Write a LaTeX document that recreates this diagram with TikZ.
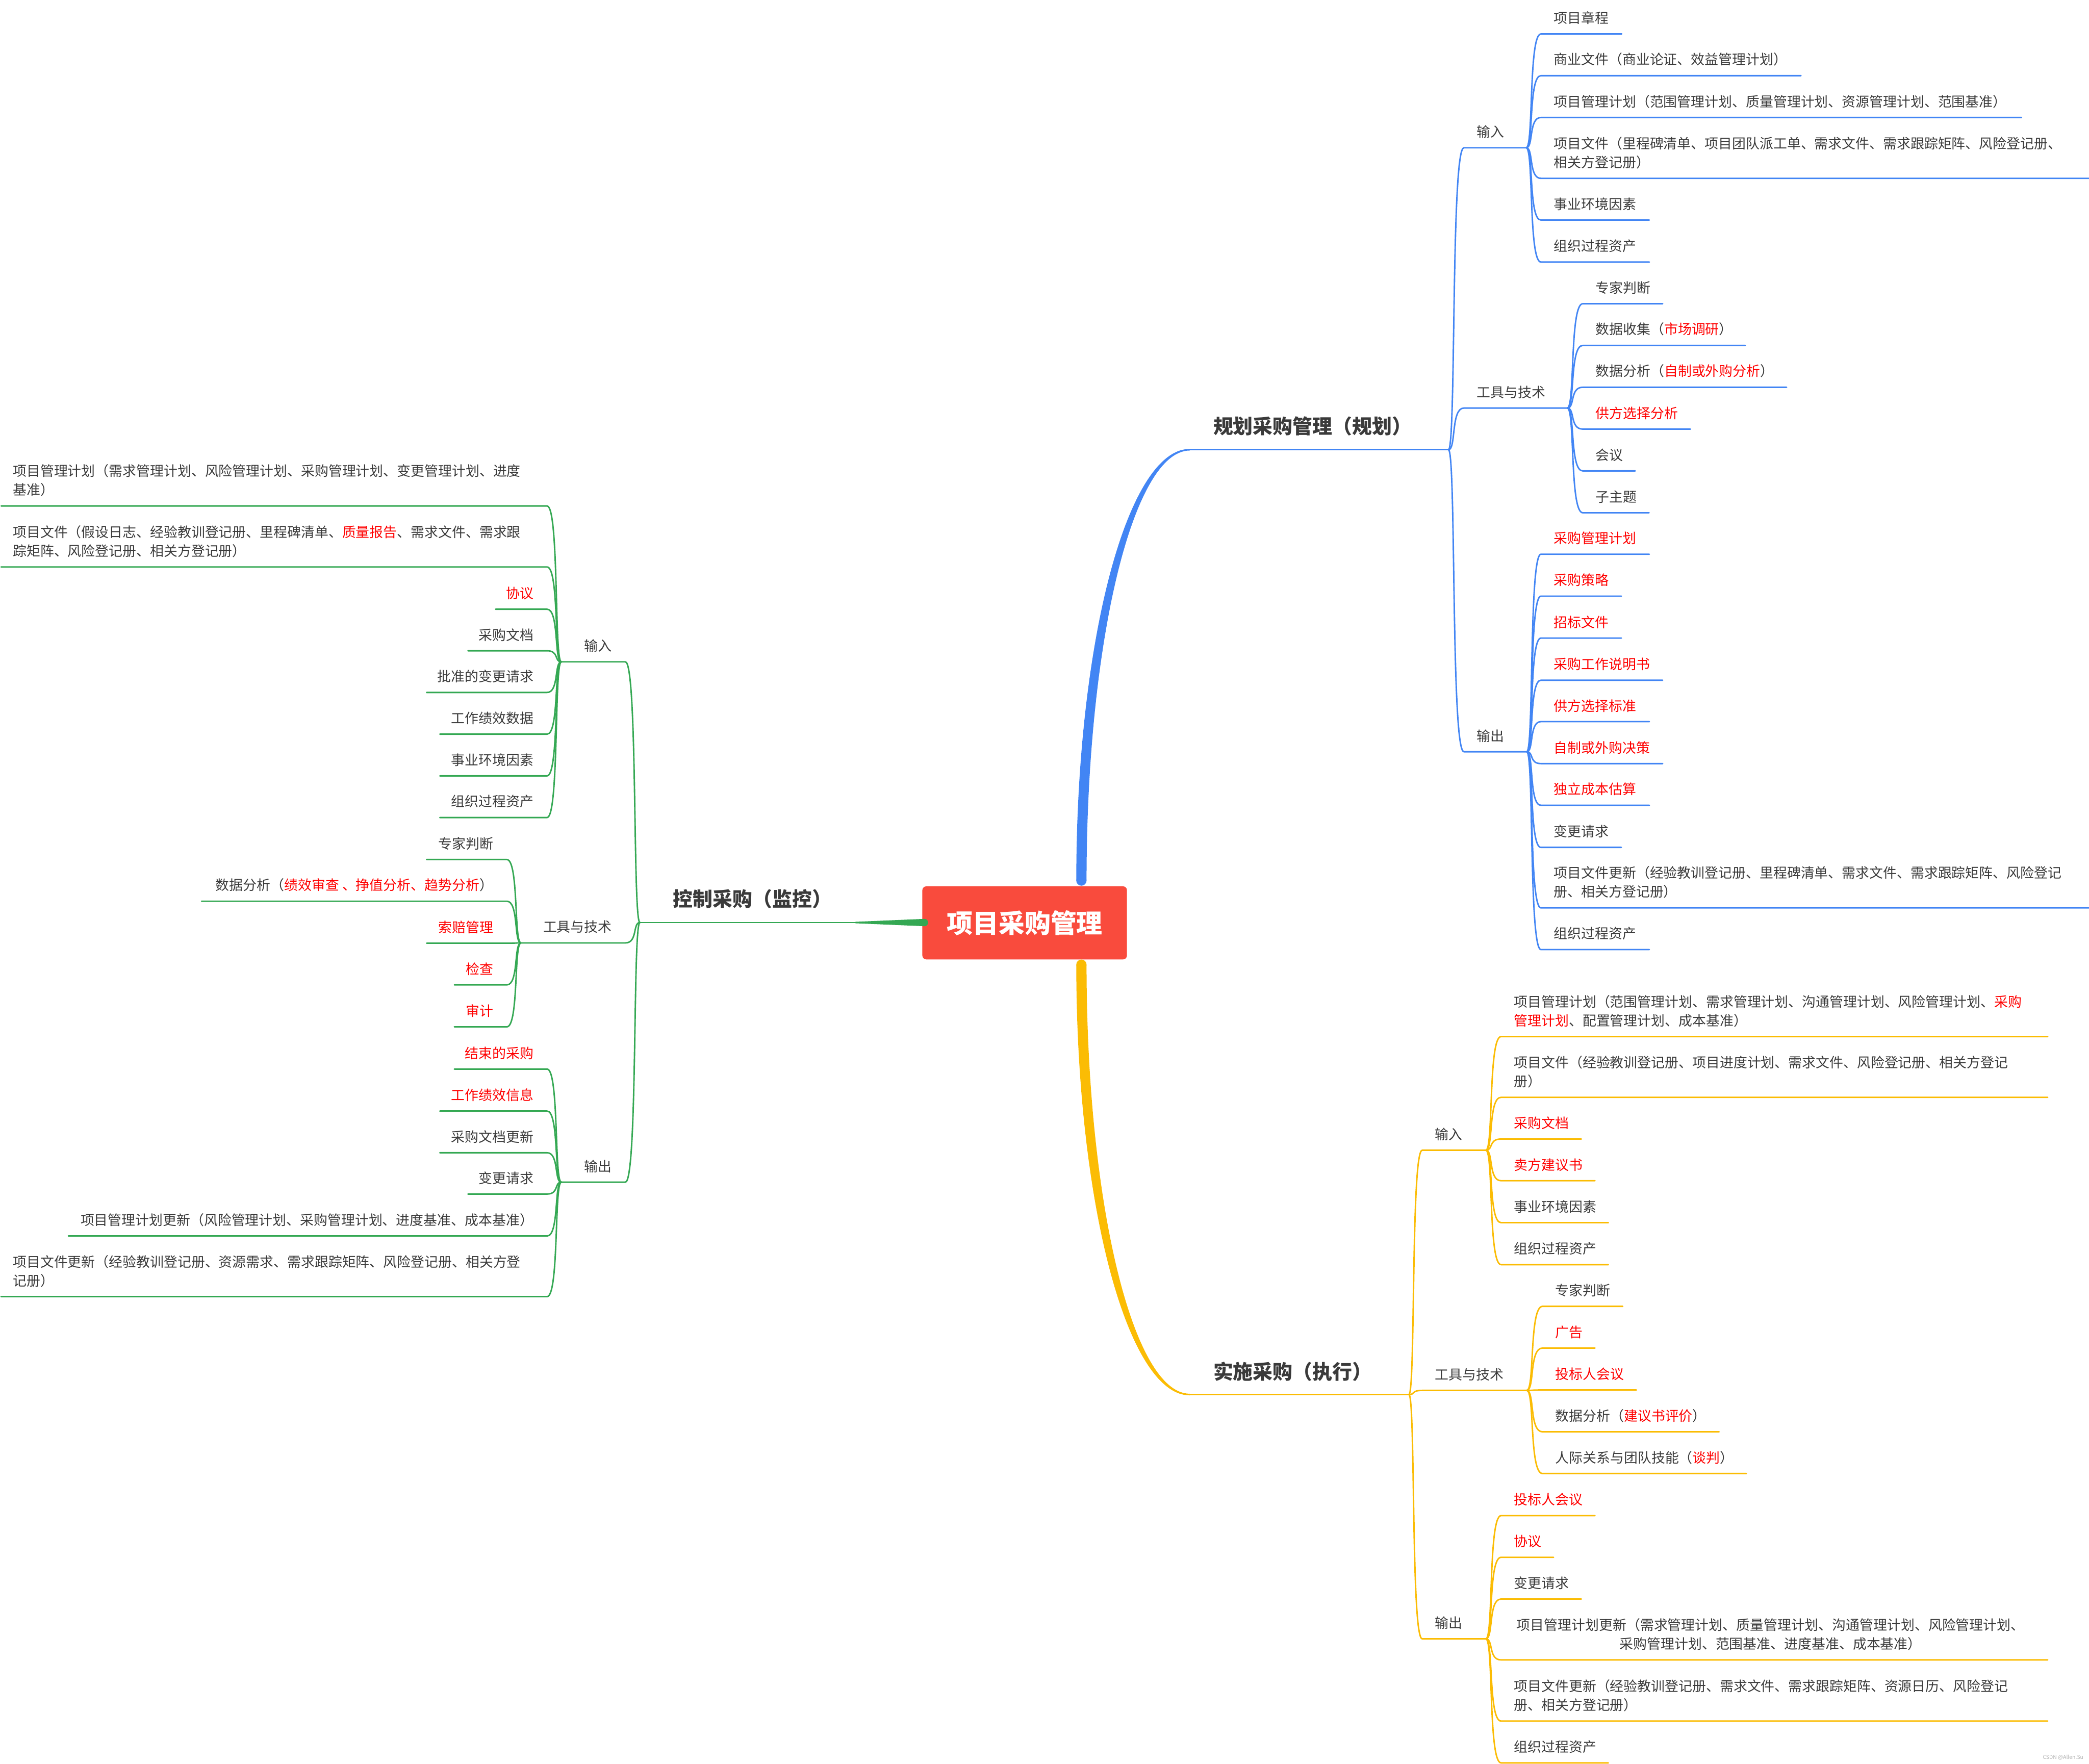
\documentclass[tikz,border=0pt]{standalone}
\usepackage{fontspec}
\setmainfont{Noto Sans CJK SC}
\usetikzlibrary{calc}
\definecolor{cblue}{HTML}{4285F4}
\definecolor{cyel}{HTML}{FBBC04}
\definecolor{cgreen}{HTML}{34A853}
\definecolor{cred}{HTML}{FF0000}
\definecolor{gtext}{HTML}{3A3A3A}
\definecolor{rootred}{HTML}{F94B3D}
\newcommand\redt[1]{\textcolor{cred}{#1}}
\tikzset{
 leaf/.style={font=\fontsize{10.3pt}{14.2pt}\selectfont, text=gtext, inner sep=0pt, align=left},
 ttl/.style={font=\fontsize{14.9pt}{18pt}\selectfont\bfseries, text=gtext, inner sep=0pt},
 rootbox/.style={fill=rootred, rounded corners=3pt, minimum width=153.6pt, minimum height=54.9pt, inner sep=0pt, font=\fontsize{19.5pt}{22pt}\selectfont\bfseries, text=white},
 bl/.style={draw=cblue, line width=1.1pt},
 yl/.style={draw=cyel, line width=1.1pt},
 gl/.style={draw=cgreen, line width=1.1pt},
 brc/.style={to path={.. controls ($(\tikztostart)!0.5!(\tikztotarget|-\tikztostart)$) and ($(\tikztostart|-\tikztotarget)!0.15!(\tikztotarget)$) .. (\tikztotarget)}},
}
% right leaf: name, line style, junction, x left, x right, y, text
\newcommand\Rleaf[7]{%
 \coordinate (#1a) at (#4,#6);
 \coordinate (#1b) at (#5,#6);
 \draw[#2] (#3) to[brc] (#1a) -- (#1b);
 \node[leaf,anchor=south west] (#1) at ($(#1a)+(9.5,-7)$) {#7};
}
% left leaf, text right-aligned
\newcommand\Lleaf[7]{%
 \coordinate (#1a) at (#4,#6);
 \coordinate (#1b) at (#5,#6);
 \draw[#2] (#3) to[brc] (#1b) -- (#1a);
 \node[leaf,anchor=south east] (#1) at ($(#1b)+(-10,-7)$) {#7};
}
% left leaf, text left-aligned at the line start
\newcommand\Lleafw[7]{%
 \coordinate (#1a) at (#4,#6);
 \coordinate (#1b) at (#5,#6);
 \draw[#2] (#3) to[brc] (#1b) -- (#1a);
 \node[leaf,anchor=south west] (#1) at ($(#1a)+(8.7,-7)$) {#7};
}
\begin{document}
\begin{tikzpicture}[x=1pt,y=-1pt,line cap=round,line join=round]
\useasboundingbox (0,0) rectangle (1568,1324);

% ---------- root ----------
\node[rootbox] (root) at (769.1,692.75) {项目采购管理};
\coordinate (bs) at (811.7,661);
\coordinate (ys) at (811.7,724.1);
\coordinate (gs) at (693.9,692.5);

% ---------- main branches ----------
\coordinate (bt0) at (893,337.6);
\fill[cblue] ($(bs)+(-3.85,0)$) .. controls ($(bs)+(-3.85,-178.5)$) and ($(bt0)+(-47,-0.6)$) .. ($(bt0)+(0,-0.6)$) -- ($(bt0)+(0,0.6)$) .. controls ($(bt0)+(-42.8,0.6)$) and ($(bs)+(3.85,-178)$) .. ($(bs)+(3.85,0)$) -- cycle;
\fill[cblue] (bs) circle[radius=3.85pt];

\coordinate (yt0) at (893,1046.8);
\fill[cyel] ($(ys)+(-3.85,0)$) .. controls ($(ys)+(-3.85,178.1)$) and ($(yt0)+(-47,0.6)$) .. ($(yt0)+(0,0.6)$) -- ($(yt0)+(0,-0.6)$) .. controls ($(yt0)+(-42.8,-0.6)$) and ($(ys)+(3.85,177.6)$) .. ($(ys)+(3.85,0)$) -- cycle;
\fill[cyel] (ys) circle[radius=3.85pt];

\coordinate (gt0) at (642,692.5);
\fill[cgreen] ($(gt0)+(0,-0.55)$) -- ($(gs)+(0,-2.75)$) -- ($(gs)+(0,2.75)$) -- ($(gt0)+(0,0.55)$) -- cycle;
\fill[cgreen] (gs) circle[radius=2.75pt];

\coordinate (bj) at (1087.2,337.6);
\draw[bl] (bt0) -- (bj);
\node[ttl,anchor=south west] (btitle) at (910.5,327.5) {规划采购管理（规划）};

\coordinate (yj) at (1057.5,1046.8);
\draw[yl] (yt0) -- (yj);
\node[ttl,anchor=south west] (ytitle) at (910.5,1037) {实施采购（执行）};

\coordinate (gj) at (480.3,692.5);
\draw[gl] (gt0) -- (gj);
\node[ttl,anchor=south west] (gtitle) at (505,682.3) {控制采购（监控）};

% ---------- blue: 规划 ----------
\Rleaf{bi}{bl}{bj}{1098.8}{1145.6}{110.9}{输入}
\Rleaf{bi1}{bl}{bib}{1156.6}{1217.3}{25.5}{项目章程}
\Rleaf{bi2}{bl}{bib}{1156.6}{1351.8}{56.8}{商业文件（商业论证、效益管理计划）}
\Rleaf{bi3}{bl}{bib}{1156.6}{1517.3}{88.2}{项目管理计划（范围管理计划、质量管理计划、资源管理计划、范围基准）}
\Rleaf{bi4}{bl}{bib}{1156.6}{1568}{133.9}{项目文件（里程碑清单、项目团队派工单、需求文件、需求跟踪矩阵、风险登记册、\\相关方登记册）}
\Rleaf{bi5}{bl}{bib}{1156.6}{1238}{165.2}{事业环境因素}
\Rleaf{bi6}{bl}{bib}{1156.6}{1238}{196.7}{组织过程资产}

\Rleaf{btl}{bl}{bj}{1098.8}{1176.4}{306.3}{工具与技术}
\Rleaf{bt1}{bl}{btlb}{1188}{1248}{228.0}{专家判断}
\Rleaf{bt2}{bl}{btlb}{1188}{1310}{259.3}{数据收集（\redt{市场调研}）}
\Rleaf{bt3}{bl}{btlb}{1188}{1341}{290.7}{数据分析（\redt{自制或外购分析}）}
\Rleaf{bt4}{bl}{btlb}{1188}{1268.8}{322.1}{\redt{供方选择分析}}
\Rleaf{bt5}{bl}{btlb}{1188}{1227.4}{353.5}{会议}
\Rleaf{bt6}{bl}{btlb}{1188}{1237.8}{384.9}{子主题}

\Rleaf{bo}{bl}{bj}{1098.8}{1146}{564.3}{输出}
\Rleaf{bo1}{bl}{bob}{1156.6}{1238}{416.0}{\redt{采购管理计划}}
\Rleaf{bo2}{bl}{bob}{1156.6}{1217}{447.5}{\redt{采购策略}}
\Rleaf{bo3}{bl}{bob}{1156.6}{1217}{479.0}{\redt{招标文件}}
\Rleaf{bo4}{bl}{bob}{1156.6}{1248}{510.6}{\redt{采购工作说明书}}
\Rleaf{bo5}{bl}{bob}{1156.6}{1238}{541.7}{\redt{供方选择标准}}
\Rleaf{bo6}{bl}{bob}{1156.6}{1248}{573.2}{\redt{自制或外购决策}}
\Rleaf{bo7}{bl}{bob}{1156.6}{1238}{604.5}{\redt{独立成本估算}}
\Rleaf{bo8}{bl}{bob}{1156.6}{1217}{636.1}{变更请求}
\Rleaf{bo9}{bl}{bob}{1156.6}{1568}{681.5}{项目文件更新（经验教训登记册、里程碑清单、需求文件、需求跟踪矩阵、风险登记\\册、相关方登记册）}
\Rleaf{bo10}{bl}{bob}{1156.6}{1238}{712.8}{组织过程资产}

% ---------- yellow: 实施 ----------
\Rleaf{yi}{yl}{yj}{1067.5}{1115.3}{863.4}{输入}
\Rleaf{yi1}{yl}{yib}{1126.7}{1537}{778.1}{项目管理计划（范围管理计划、需求管理计划、沟通管理计划、风险管理计划、\redt{采购}\\\redt{管理计划}、配置管理计划、成本基准）}
\Rleaf{yi2}{yl}{yib}{1126.7}{1537}{823.7}{项目文件（经验教训登记册、项目进度计划、需求文件、风险登记册、相关方登记\\册）}
\Rleaf{yi3}{yl}{yib}{1126.7}{1187}{855.0}{\redt{采购文档}}
\Rleaf{yi4}{yl}{yib}{1126.7}{1197.2}{886.3}{\redt{卖方建议书}}
\Rleaf{yi5}{yl}{yib}{1126.7}{1207.2}{917.8}{事业环境因素}
\Rleaf{yi6}{yl}{yib}{1126.7}{1207.2}{949.3}{组织过程资产}

\Rleaf{ytl}{yl}{yj}{1067.5}{1146}{1043.7}{工具与技术}
\Rleaf{yt1}{yl}{ytlb}{1157.8}{1218}{980.6}{专家判断}
\Rleaf{yt2}{yl}{ytlb}{1157.8}{1197.2}{1011.9}{\redt{广告}}
\Rleaf{yt3}{yl}{ytlb}{1157.8}{1228.3}{1043.4}{\redt{投标人会议}}
\Rleaf{yt4}{yl}{ytlb}{1157.8}{1290.4}{1074.8}{数据分析（\redt{建议书评价}）}
\Rleaf{yt5}{yl}{ytlb}{1157.8}{1310.8}{1106.1}{人际关系与团队技能（\redt{谈判}）}

\Rleaf{yo}{yl}{yj}{1067.5}{1115.3}{1230.2}{输出}
\Rleaf{yo1}{yl}{yob}{1126.7}{1197.2}{1137.7}{\redt{投标人会议}}
\Rleaf{yo2}{yl}{yob}{1126.7}{1166.1}{1169.0}{\redt{协议}}
\Rleaf{yo3}{yl}{yob}{1126.7}{1187}{1200.3}{变更请求}
\coordinate (yo4a) at (1126.7,1246.0);
\coordinate (yo4b) at (1537,1246.0);
\draw[yl] (yob) to[brc] (yo4a) -- (yo4b);
\node[leaf,align=center,anchor=south] (yo4) at (1329,1239) {项目管理计划更新（需求管理计划、质量管理计划、沟通管理计划、风险管理计划、\\采购管理计划、范围基准、进度基准、成本基准）};
\Rleaf{yo5}{yl}{yob}{1126.7}{1537}{1291.9}{项目文件更新（经验教训登记册、需求文件、需求跟踪矩阵、资源日历、风险登记\\册、相关方登记册）}
\Rleaf{yo6}{yl}{yob}{1126.7}{1207.2}{1323.3}{组织过程资产}

% ---------- green: 控制 ----------
\Lleaf{gi}{gl}{gj}{421.3}{469.4}{496.8}{输入}
\Lleafw{gi1}{gl}{gia}{0.8}{410.6}{379.8}{项目管理计划（需求管理计划、风险管理计划、采购管理计划、变更管理计划、进度\\基准）}
\Lleafw{gi2}{gl}{gia}{0.8}{410.6}{425.6}{项目文件（假设日志、经验教训登记册、里程碑清单、\redt{质量报告}、需求文件、需求跟\\踪矩阵、风险登记册、相关方登记册）}
\Lleaf{gi3}{gl}{gia}{372}{410.6}{457.3}{\redt{协议}}
\Lleaf{gi4}{gl}{gia}{351.2}{410.6}{488.5}{采购文档}
\Lleaf{gi5}{gl}{gia}{320.2}{410.6}{519.8}{批准的变更请求}
\Lleaf{gi6}{gl}{gia}{330.1}{410.6}{551.1}{工作绩效数据}
\Lleaf{gi7}{gl}{gia}{330.1}{410.6}{582.4}{事业环境因素}
\Lleaf{gi8}{gl}{gia}{330.1}{410.6}{613.7}{组织过程资产}

\Lleaf{gtl}{gl}{gj}{391}{469.4}{707.8}{工具与技术}
\Lleaf{gt1}{gl}{gtla}{320.2}{380.4}{645.2}{专家判断}
\Lleaf{gt2}{gl}{gtla}{151.3}{380.4}{676.5}{数据分析（\redt{绩效审查 、挣值分析、趋势分析}）}
\Lleaf{gt3}{gl}{gtla}{320.2}{380.4}{708.0}{\redt{索赔管理}}
\Lleaf{gt4}{gl}{gtla}{341}{380.4}{739.3}{\redt{检查}}
\Lleaf{gt5}{gl}{gtla}{341}{380.4}{770.8}{\redt{审计}}

\Lleaf{go}{gl}{gj}{421.3}{469.4}{887.4}{输出}
\Lleaf{go1}{gl}{goa}{341}{410.6}{802.5}{\redt{结束的采购}}
\Lleaf{go2}{gl}{goa}{330.1}{410.6}{834.0}{\redt{工作绩效信息}}
\Lleaf{go3}{gl}{goa}{330.1}{410.6}{865.3}{采购文档更新}
\Lleaf{go4}{gl}{goa}{351.2}{410.6}{896.3}{变更请求}
\Lleaf{go5}{gl}{goa}{51.3}{410.6}{927.8}{项目管理计划更新（风险管理计划、采购管理计划、进度基准、成本基准）}
\Lleafw{go6}{gl}{goa}{0.8}{410.6}{973.3}{项目文件更新（经验教训登记册、资源需求、需求跟踪矩阵、风险登记册、相关方登\\记册）}

% watermark
\node[font=\fontsize{4pt}{5pt}\selectfont, text=gray!60, inner sep=0pt, anchor=east] (wm) at (1564,1319.2) {CSDN @Allen.Su};
\end{tikzpicture}
\end{document}
